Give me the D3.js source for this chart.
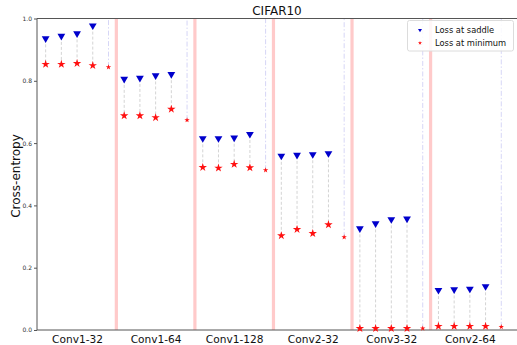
<!DOCTYPE html>
<html>
<head>
<meta charset="utf-8">
<script src="https://cdn.jsdelivr.net/npm/d3@7"></script>
<style>
  html, body { margin: 0; padding: 0; background: #fff; }
  svg { display: block; font-family: "DejaVu Sans", sans-serif; }
</style>
</head>
<body>
<svg id="chart" width="517" height="345"></svg>
<script>
// Network configurations on the x axis
const groups = ["Conv1-32", "Conv1-64", "Conv1-128", "Conv2-32", "Conv3-32", "Conv2-64"];

// Cross-entropy at the saddle point, four runs per configuration
const saddleLoss = [
  [0.933, 0.941, 0.949, 0.974],
  [0.803, 0.806, 0.814, 0.818],
  [0.612, 0.612, 0.614, 0.626],
  [0.556, 0.559, 0.561, 0.564],
  [0.323, 0.339, 0.352, 0.354],
  [0.125, 0.127, 0.129, 0.137]
];

// Cross-entropy at the minimum, four runs per configuration
const minimumLoss = [
  [0.853, 0.853, 0.856, 0.849],
  [0.688, 0.688, 0.682, 0.709],
  [0.522, 0.520, 0.532, 0.521],
  [0.303, 0.323, 0.310, 0.338],
  [0.005, 0.005, 0.005, 0.005],
  [0.012, 0.012, 0.012, 0.012]
];

// Reference minimum per configuration (fifth slot)
const referenceMin = [0.844, 0.674, 0.513, 0.298, 0.005, 0.010];

const yTicks = [0.0, 0.2, 0.4, 0.6, 0.8, 1.0];

const slotsPerGroup = 5;
const svg = d3.select("#chart");

const x = d3.scaleLinear().domain([-0.55, 30]).range([37, 517]);
const y = d3.scaleLinear().domain([0, 1]).range([330, 18.5]);

// Flatten into point records
const pts = [];
groups.forEach((g, gi) => {
  saddleLoss[gi].forEach((s, j) => {
    pts.push({ idx: gi * slotsPerGroup + j, saddle: s, min: minimumLoss[gi][j] });
  });
});
const refPts = referenceMin.map((v, gi) => ({ idx: gi * slotsPerGroup + 4, min: v }));

// Separators between configurations
svg.append("g").selectAll("line")
  .data(groups.slice(0, -1))
  .join("line")
  .attr("x1", (d, i) => x(i * slotsPerGroup + 4.5))
  .attr("x2", (d, i) => x(i * slotsPerGroup + 4.5))
  .attr("y1", y(0)).attr("y2", y(1))
  .attr("stroke", "#ffcaca").attr("stroke-width", 3.2);

// Dash-dot guides running up from the reference minimum
svg.append("g").selectAll("line")
  .data(refPts)
  .join("line")
  .attr("x1", d => x(d.idx)).attr("x2", d => x(d.idx))
  .attr("y1", d => y(d.min)).attr("y2", y(1))
  .attr("stroke", "#d6d6f6").attr("stroke-width", 1)
  .attr("stroke-dasharray", "5,2,1.5,2");

// Dashed connectors between saddle and minimum
svg.append("g").selectAll("line")
  .data(pts)
  .join("line")
  .attr("x1", d => x(d.idx)).attr("x2", d => x(d.idx))
  .attr("y1", d => y(d.saddle)).attr("y2", d => y(d.min))
  .attr("stroke", "#d4d4d4").attr("stroke-width", 1)
  .attr("stroke-dasharray", "3,2");

// Axes spines
const axisColor = "#555";
svg.append("line").attr("x1", 37).attr("x2", 37).attr("y1", y(1)).attr("y2", y(0))
  .attr("stroke", axisColor).attr("stroke-width", 1);
svg.append("line").attr("x1", 37).attr("x2", 517).attr("y1", y(0)).attr("y2", y(0))
  .attr("stroke", axisColor).attr("stroke-width", 1);
svg.append("line").attr("x1", 37).attr("x2", 517).attr("y1", y(1)).attr("y2", y(1))
  .attr("stroke", axisColor).attr("stroke-width", 1);

// Y axis ticks
const yAxis = d3.axisLeft(y).tickValues(yTicks).tickFormat(d3.format(".1f")).tickSize(3).tickPadding(2);
const yg = svg.append("g").attr("transform", "translate(37,0)").call(yAxis);
yg.select(".domain").remove();
yg.selectAll(".tick line").attr("stroke", axisColor);
yg.selectAll(".tick text").attr("font-size", 6).attr("fill", "#333")
  .attr("font-family", "DejaVu Sans, sans-serif");

// X axis labels at configuration centres
const xAxis = d3.axisBottom(x)
  .tickValues(groups.map((g, i) => i * slotsPerGroup + 2))
  .tickFormat((d, i) => groups[i]).tickSize(0).tickPadding(5);
const xg = svg.append("g").attr("transform", `translate(0,${y(0)})`).call(xAxis);
xg.select(".domain").remove();
xg.selectAll(".tick text").attr("font-size", 10.6).attr("fill", "#111")
  .attr("font-family", "DejaVu Sans, sans-serif");

// Markers
const tri = (r) => `M${-r},${-r * 0.8}L${r},${-r * 0.8}L0,${r * 0.9}Z`;
const star = d3.symbol().type(d3.symbolStar);

svg.append("g").selectAll("path")
  .data(pts)
  .join("path")
  .attr("transform", d => `translate(${x(d.idx)},${y(d.saddle)})`)
  .attr("d", tri(3.9))
  .attr("fill", "#0000cc");

svg.append("g").selectAll("path")
  .data(pts)
  .join("path")
  .attr("transform", d => `translate(${x(d.idx)},${y(d.min)})`)
  .attr("d", star.size(22)())
  .attr("fill", "#ff1010");

svg.append("g").selectAll("path")
  .data(refPts)
  .join("path")
  .attr("transform", d => `translate(${x(d.idx)},${y(d.min)})`)
  .attr("d", star.size(9)())
  .attr("fill", "#ff1010");

// Title and axis label
svg.append("text").attr("x", 277).attr("y", 15).attr("text-anchor", "middle")
  .attr("font-size", 12).attr("fill", "#111").text("CIFAR10");
svg.append("text").attr("transform", "translate(20,176) rotate(-90)")
  .attr("text-anchor", "middle").attr("font-size", 12).attr("fill", "#111")
  .text("Cross-entropy");

// Legend
const lg = svg.append("g");
lg.append("rect").attr("x", 407.5).attr("y", 20.5).attr("width", 106).attr("height", 30.5)
  .attr("rx", 2).attr("fill", "rgba(255,255,255,0.85)").attr("stroke", "#dcdcdc");
lg.append("path").attr("transform", "translate(420,30.5)").attr("d", tri(2)).attr("fill", "#0000cc");
lg.append("path").attr("transform", "translate(420,43)").attr("d", star.size(5)()).attr("fill", "#ff1010");
lg.append("text").attr("x", 435).attr("y", 33).attr("font-size", 8.3).attr("fill", "#111").text("Loss at saddle");
lg.append("text").attr("x", 435).attr("y", 45.5).attr("font-size", 8.3).attr("fill", "#111").text("Loss at minimum");
</script>
</body>
</html>
